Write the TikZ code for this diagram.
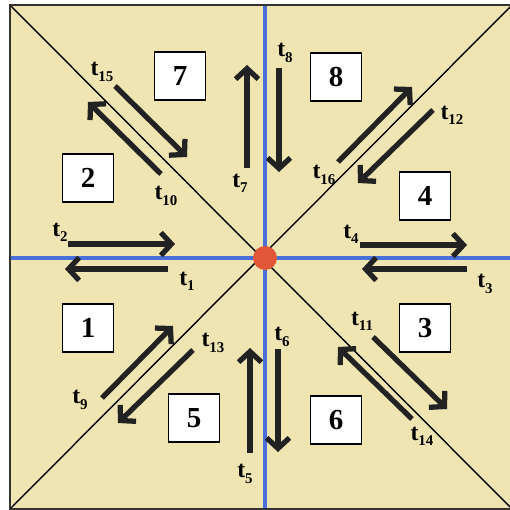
\documentclass[tikz,border=0pt]{standalone}
\usepackage{fontspec}
\setmainfont{Liberation Serif}
\usepackage{tikz}
\usetikzlibrary{arrows.meta}
\definecolor{SandBg}{RGB}{238,229,178}
\definecolor{AxisBlue}{RGB}{72,112,216}
\definecolor{DotRed}{RGB}{226,86,56}
\definecolor{FlowBlack}{RGB}{34,34,34}
\newcommand{\tlab}[1]{t\raisebox{-3pt}{\fontsize{8.5}{9}\selectfont #1}}

\begin{document}
\begin{tikzpicture}[x=0.02cm, y=-0.02cm,
  numbox/.style={draw, fill=white, line width=0.6pt, minimum width=1.02cm, minimum height=0.96cm, inner sep=0pt, font=\fontsize{16.5}{18}\selectfont\bfseries},
  flow/.style={draw=FlowBlack, line width=3pt, -{Straight Barb[length=6pt, width=13pt]}},
  tname/.style={inner sep=0pt, font=\fontsize{13.5}{15}\selectfont\bfseries}]
\useasboundingbox (0,0) rectangle (510,510);
\coordinate (tl) at (10,5);
\coordinate (tr) at (512,5);
\coordinate (bl) at (10,509);
\coordinate (br) at (512,509);
\coordinate (top) at (265,5);
\coordinate (bot) at (265,509);
\coordinate (lft) at (10,258);
\coordinate (rgt) at (512,258);
\fill[SandBg] (tl) rectangle (br);
\draw[line width=0.8pt] (tl) -- (br);
\draw[line width=0.8pt] (bl) -- (tr);
\draw[AxisBlue, line width=2.4pt] (top) -- (bot);
\draw[AxisBlue, line width=2.4pt] (lft) -- (rgt);
\draw[black!80, line width=1.2pt] (tl) rectangle (br);
\node[circle, fill=DotRed, minimum size=0.48cm, inner sep=0pt] (c) at (265,258) {};

\node[numbox] (r1) at (88,328) {1};
\node[numbox] (r2) at (88,178) {2};
\node[numbox] (r3) at (425,328) {3};
\node[numbox] (r4) at (425,196) {4};
\node[numbox] (r5) at (194,418) {5};
\node[numbox] (r6) at (336,420) {6};
\node[numbox] (r7) at (180,76) {7};
\node[numbox] (r8) at (336,77) {8};

% transitions: start, end, label
\foreach \i/\sx/\sy/\ex/\ey/\lx/\ly in {
  1/168/269/65/269/187/281, 2/68/244/175/244/60/232,
  3/467/269/362/269/485/284, 4/360/245/467/245/351/234,
  5/250/453/250/348/245/474, 6/278/349/278/452/282/337,
  7/247/168/247/65/240/183, 8/279/68/279/172/285/53,
  9/102/398/173/326/80/400, 10/161/174/88/102/166/196,
  11/373/337/447/409/362/321, 12/433/110/358/183/452/115,
  13/193/350/118/423/213/343, 14/412/419/338/347/422/436,
  15/115/86/187/157/102/72, 16/338/162/412/87/324/175}{
  \coordinate (s\i) at (\sx,\sy);
  \coordinate (e\i) at (\ex,\ey);
  \draw[flow] (s\i) -- (e\i);
  \node[tname] (t\i) at (\lx,\ly) {\tlab{\i}};
}
\end{tikzpicture}
\end{document}
